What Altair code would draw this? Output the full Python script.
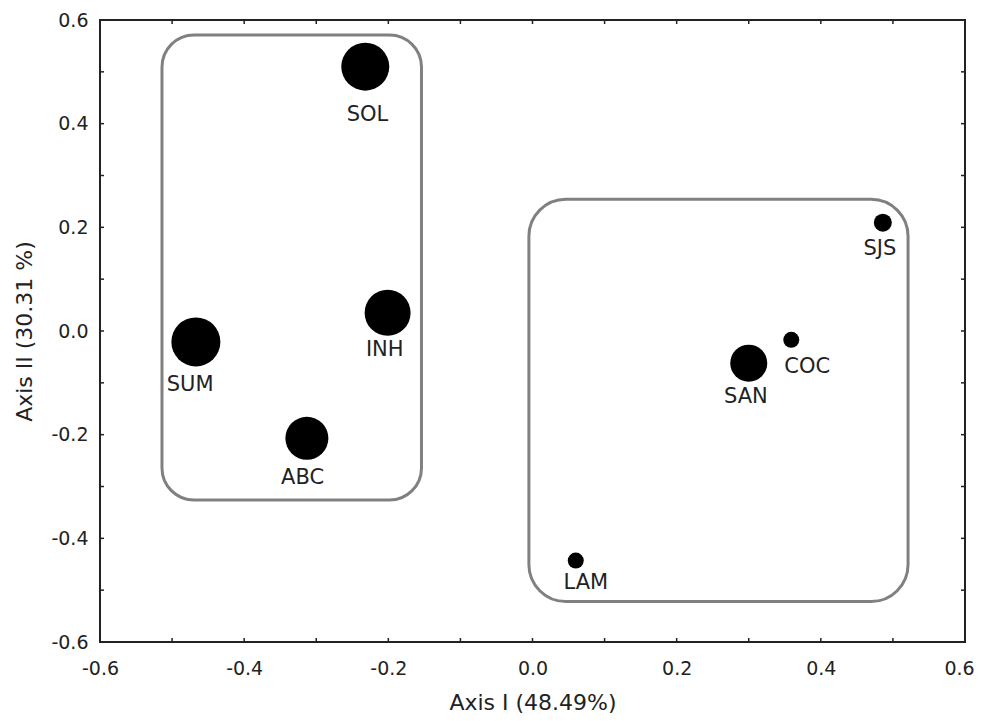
import altair as alt
import pandas as pd

# ---- data ----
sites = ["SOL", "INH", "SUM", "ABC", "SAN", "COC", "SJS", "LAM"]
axis1 = [-0.232, -0.201, -0.467, -0.313, 0.300, 0.359, 0.486, 0.060]
axis2 = [0.510, 0.035, -0.021, -0.207, -0.062, -0.017, 0.209, -0.443]
weight = [48, 46, 49, 43, 37, 16, 18, 16]
label_x = [-0.229, -0.205, -0.475, -0.319, 0.296, 0.381, 0.482, 0.074]
label_y = [0.417, -0.037, -0.104, -0.284, -0.128, -0.069, 0.158, -0.486]

group_id = [1, 2]
group_x1 = [-0.514, -0.005]
group_x2 = [-0.154, 0.521]
group_y1 = [0.571, 0.254]
group_y2 = [-0.326, -0.522]

minor_ticks = [-0.6, -0.5, -0.4, -0.3, -0.2, -0.1, 0.0, 0.1, 0.2, 0.3, 0.4, 0.5, 0.6]
label_ticks = [-0.6, -0.4, -0.2, 0.0, 0.2, 0.4, 0.6]

W, H = 865, 622
FONT = "DejaVu Sans"
INK = "#222222"

pts = pd.DataFrame({"site": sites, "a1": axis1, "a2": axis2, "w": weight,
                    "lx": label_x, "ly": label_y})
boxes = pd.DataFrame({"gid": group_id, "x1": group_x1, "x2": group_x2,
                      "y1": group_y1, "y2": group_y2})
ticks = pd.DataFrame({"t": minor_ticks})

xs = alt.Scale(domain=[-0.6, 0.6], nice=False, zero=False)
ys = alt.Scale(domain=[-0.6, 0.6], nice=False, zero=False)

lbl = "replace(format(datum.value, '.1f'), '\u2212', '-')"

x_axis = alt.Axis(values=label_ticks, labelExpr=lbl, ticks=False, tickSize=0,
                  domain=False, grid=False, labelPadding=17, labelFontSize=19,
                  labelFont=FONT, labelColor=INK, labelFlush=False, labelOverlap=False,
                  labelOffset={"condition": {"test": "datum.value > 0.55", "value": -6},
                               "value": 0},
                  title="Axis I (48.49%)", titleFont=FONT, titleFontSize=22,
                  titleFontWeight="normal", titleColor=INK, titleY=67,
                  titleBaseline="alphabetic")
y_axis = alt.Axis(values=label_ticks, labelExpr=lbl, ticks=False, tickSize=0,
                  domain=False, grid=False, labelPadding=12, labelFontSize=19,
                  labelFont=FONT, labelColor=INK, labelFlush=False, labelOverlap=False,
                  title="Axis II (30.31 %)", titleFont=FONT, titleFontSize=22,
                  titleFontWeight="normal", titleColor=INK, titleX=-69,
                  titleBaseline="alphabetic")

def box_layer(gid, radius):
    return alt.Chart(boxes).transform_filter(alt.datum.gid == gid).mark_rect(
        filled=False, stroke="#808080", strokeWidth=3, cornerRadius=radius
    ).encode(
        x=alt.X("x1:Q", scale=xs, axis=x_axis), x2="x2:Q",
        y=alt.Y("y1:Q", scale=ys, axis=y_axis), y2="y2:Q",
    )

tick_base = alt.Chart(ticks).mark_rule(color=INK, strokeWidth=1.5)
t_bottom = tick_base.encode(x=alt.X("t:Q", scale=xs, axis=x_axis),
                            y=alt.value(H), y2=alt.value(H - 4))
t_top = tick_base.encode(x=alt.X("t:Q", scale=xs, axis=x_axis),
                         y=alt.value(0), y2=alt.value(4))
t_left = tick_base.encode(y=alt.Y("t:Q", scale=ys, axis=y_axis),
                          x=alt.value(0), x2=alt.value(4))
t_right = tick_base.encode(y=alt.Y("t:Q", scale=ys, axis=y_axis),
                           x=alt.value(W), x2=alt.value(W - 4))

points = alt.Chart(pts).mark_circle(color="black", opacity=1).encode(
    x=alt.X("a1:Q", scale=xs, axis=x_axis),
    y=alt.Y("a2:Q", scale=ys, axis=y_axis),
    size=alt.Size("w:Q", scale=alt.Scale(type="pow", exponent=2, domain=[0, 50],
                                         range=[0, 2500]), legend=None),
)

labels = alt.Chart(pts).mark_text(font=FONT, fontSize=21, color=INK,
                                  baseline="middle", align="center").encode(
    x=alt.X("lx:Q", scale=xs, axis=x_axis),
    y=alt.Y("ly:Q", scale=ys, axis=y_axis),
    text="site:N",
)

chart = alt.layer(
    box_layer(1, 32), box_layer(2, 37),
    t_bottom, t_top, t_left, t_right,
    points, labels,
).properties(
    width=W, height=H,
    padding={"left": 92, "top": 12, "right": 9, "bottom": 71},
    autosize=alt.AutoSizeParams(type="none"),
).configure_view(stroke=INK, strokeWidth=2)

chart.save("out.html", embed_options={"renderer": "svg", "actions": False})
